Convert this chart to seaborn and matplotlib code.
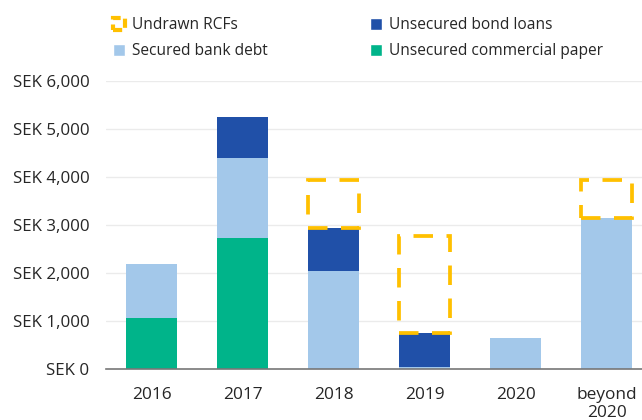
import numpy as np
import pandas as pd
import matplotlib
matplotlib.use("Agg")
import matplotlib.pyplot as plt
import seaborn as sns
from matplotlib.patches import Patch

# maturity buckets and amounts (SEK m)
years = ["2016", "2017", "2018", "2019", "2020", "beyond\n2020"]
commercial_paper = [1070, 2730, 0, 0, 0, 0]
secured_bank_debt = [1120, 1660, 2040, 55, 650, 3140]
bond_loans = [0, 860, 900, 705, 0, 0]
undrawn_rcfs = [0, 0, 1000, 2020, 0, 800]

GREEN = "#00B48A"
LIGHT = "#A3C8EA"
DARK = "#2050A8"
GOLD = "#FFC000"

sns.set_theme(style="white")
plt.rcParams["font.family"] = ["Open Sans", "DejaVu Sans"]

df = pd.DataFrame({
    "year": years,
    "cp": commercial_paper,
    "secured": secured_bank_debt,
    "bond": bond_loans,
    "rcf": undrawn_rcfs,
})
df["lvl1"] = df["cp"]
df["lvl2"] = df["lvl1"] + df["secured"]
df["lvl3"] = df["lvl2"] + df["bond"]

fig = plt.figure(figsize=(6.42, 4.2), dpi=100)
ax = fig.add_axes([106 / 642, (420 - 369.3) / 420, (642 - 106) / 642, (369.3 - 81) / 420])

w = 0.567
# overlap bars tallest-first to get the stacked look
sns.barplot(data=df, x="year", y="lvl3", color=DARK, width=w, saturation=1, ax=ax, edgecolor="none")
sns.barplot(data=df, x="year", y="lvl2", color=LIGHT, width=w, saturation=1, ax=ax, edgecolor="none")
sns.barplot(data=df, x="year", y="lvl1", color=GREEN, width=w, saturation=1, ax=ax, edgecolor="none")

# undrawn facilities as dashed boxes on top of the stack
pos = np.arange(len(years))
mask = df["rcf"].values > 0
ax.bar(pos[mask], df["rcf"].values[mask], bottom=df["lvl3"].values[mask], width=w,
       fill=False, edgecolor=GOLD, linewidth=2.7, linestyle=(0, (5.2, 3.6)), zorder=3)

ax.set_xlim(-0.5, 5.39)
ax.set_ylim(0, 6000)
ax.set_yticks(np.arange(0, 6001, 1000))
ax.set_yticklabels([f"SEK {v:,}" for v in range(0, 6001, 1000)], fontsize=12.2)
ax.tick_params(axis="x", labelsize=12.4, pad=13, length=0)
ax.tick_params(axis="y", length=0, pad=12)
for t in ax.get_xticklabels():
    t.set_linespacing(1.15)
ax.grid(axis="y", color="#EBEBEB", linewidth=1)
ax.set_axisbelow(True)
ax.set_xlabel("")
ax.set_ylabel("")
for s in ["top", "right", "left"]:
    ax.spines[s].set_visible(False)
ax.spines["bottom"].set_color("#777777")
ax.spines["bottom"].set_linewidth(1.2)

handles = [
    Patch(facecolor="none", edgecolor=GOLD, linewidth=3, linestyle=(0, (2.2, 1.2))),
    Patch(facecolor=LIGHT),
    Patch(facecolor=DARK),
    Patch(facecolor=GREEN),
]
labels = ["Undrawn RCFs", "Secured bank debt", "Unsecured bond loans", "Unsecured commercial paper"]
fig.legend(handles, labels, ncol=2, loc="upper left", bbox_to_anchor=(99 / 642, 1 - 3 / 420),
           frameon=False, fontsize=11.2, handlelength=0.77, handleheight=0.83,
           handletextpad=0.43, columnspacing=6.6, labelspacing=0.65)

fig.savefig("out.png", dpi=100)
